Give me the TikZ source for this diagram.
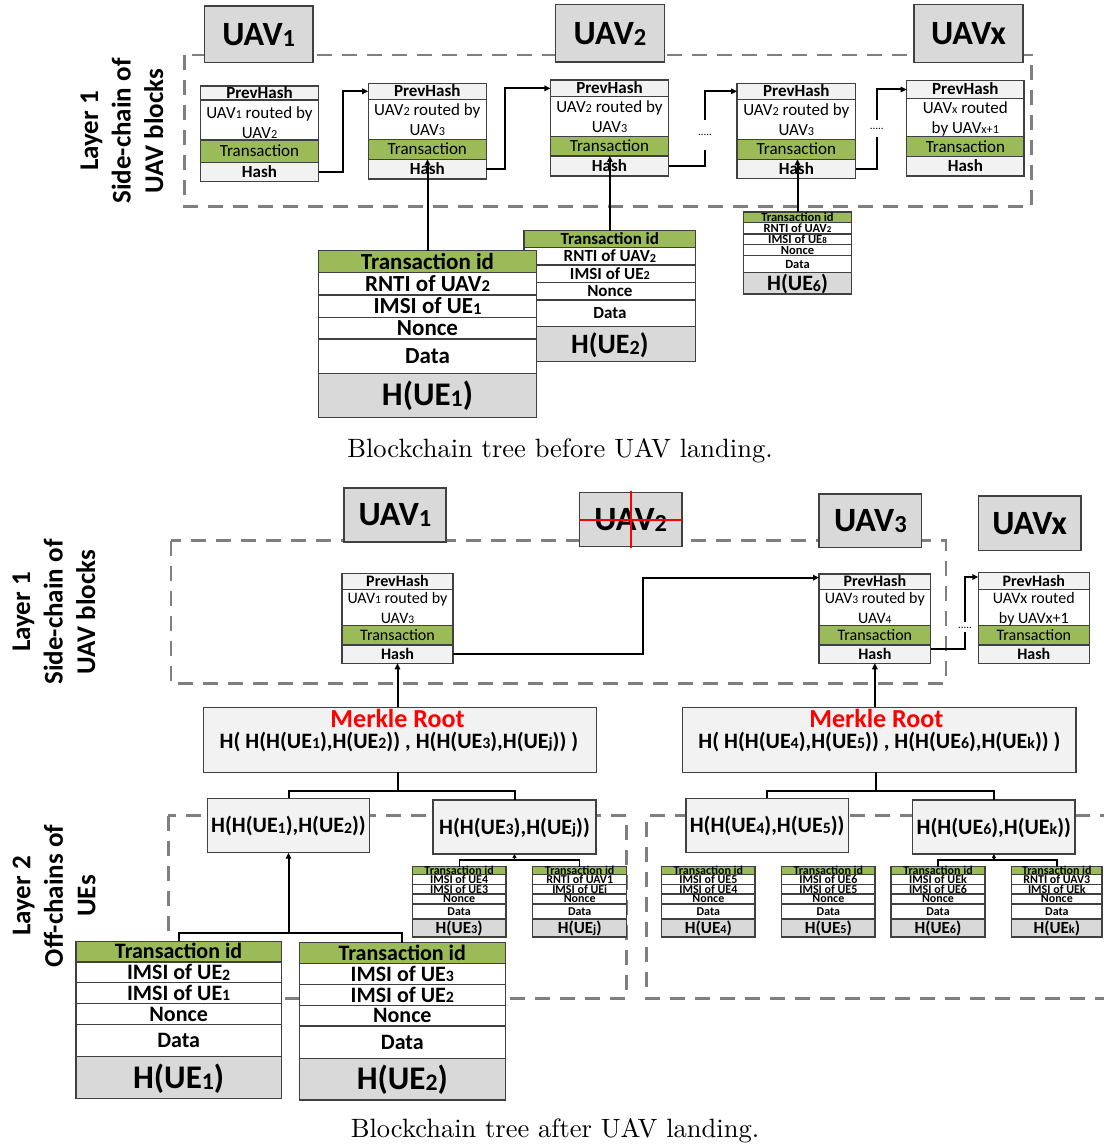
\documentclass[tikz,border=0pt]{standalone}
\usepackage{fontspec}
\usepackage{graphicx}
\usetikzlibrary{arrows.meta}
\newfontfamily\carl{Carlito}
\definecolor{grn}{HTML}{9BBB59}
\definecolor{lgray}{HTML}{F2F2F2}
\definecolor{dgray}{HTML}{D9D9D9}
\definecolor{bord}{HTML}{404040}
\definecolor{dashc}{HTML}{7F7F7F}
\newcommand\sbs[1]{\raisebox{-0.03em}{\scalebox{0.72}{#1}}}
\newcommand\mycell[8]{%
 \node[cellst,fill=#6,minimum width={(#4-#2)*1pt},minimum height={(#5-#3)*1pt},anchor=north west] (#1) at (#2,#3) {};%
 \node[inner sep=0pt,#7] (#1t) at (#1.center) {#8};}
\newcommand\mystab[6]{%
 \mycell{#1a}{#2}{866.7}{#3}{874.3}{grn}{bz=12}{Transaction id}%
 \mycell{#1b}{#2}{874.3}{#3}{884.3}{white}{bz=12}{#4}%
 \mycell{#1c}{#2}{884.3}{#3}{894}{white}{bz=12}{#5}%
 \mycell{#1d}{#2}{894}{#3}{904}{white}{bz=12}{Nonce}%
 \mycell{#1e}{#2}{904}{#3}{919}{white}{bz=12}{Data}%
 \mycell{#1f}{#2}{919}{#3}{937}{dgray}{bz=17}{#6}}
\tikzset{
 cellst/.style={draw=bord,line width=1.1pt,inner sep=0pt,outer sep=0pt},
 rz/.code={\pgfmathsetmacro\mycap{0.644*#1}\tikzset{font={\carl\fontsize{#1}{#1}\selectfont},text height=\mycap pt,text depth=0pt}},
 bz/.code={\pgfmathsetmacro\mycap{0.644*#1}\tikzset{font={\carl\fontsize{#1}{#1}\selectfont\bfseries},text height=\mycap pt,text depth=0pt}},
 dashbox/.style={draw=dashc,line width=2.6pt,dash pattern=on 15pt off 10pt},
 conn/.style={draw=black,line width=2pt},
 arr/.style={conn,-{Triangle[length=6pt,width=5.5pt]}},
 thinc/.style={draw=black,line width=1.3pt},
 tarr/.style={thinc,-{Triangle[length=4pt,width=4pt]}},
 dots/.style={font={\carl\fontsize{11}{11}\selectfont},inner sep=0pt,text height=1.5pt,text depth=0pt},
 lab/.style={rotate=90,align=center,inner sep=0pt,font={\carl\fontsize{27}{32.5}\selectfont\bfseries}},
 capt/.style={inner sep=0pt,font={\fontsize{10}{12}\selectfont}},
 redx/.style={draw=red,line width=2.2pt},
}
\begin{document}
\begin{tikzpicture}[x=1pt,y=-1pt]
\useasboundingbox (0,0) rectangle (1103,1147);
\fill[white] (0,0) rectangle (1103,1147);

%================ TOP =================
\draw[dashbox] (184.3,55) rectangle (1031.7,206.5);
\mycell{uav1t}{204.3}{6}{313.2}{62.3}{dgray,line width=1.5pt}{bz=34}{UAV\sbs{1}}
\mycell{uav2t}{555.7}{4.7}{664.3}{62}{dgray,line width=1.5pt}{bz=34}{UAV\sbs{2}}
\mycell{uavxt}{914}{4.7}{1023}{62.3}{dgray,line width=1.5pt}{bz=34}{UAVx}

% Block A
\mycell{pA}{200.4}{86}{318.6}{100}{lgray}{bz=17}{PrevHash}
\mycell{tA}{200.4}{100}{318.6}{140}{white}{rz=17}{}
\mycell{trA}{200.4}{140}{318.6}{162.3}{grn}{rz=17}{Transaction}
\mycell{hA}{200.4}{162.3}{318.6}{181.7}{lgray}{bz=17}{Hash}
\node[rz=17] (tA1) at (259.5,113) {UAV\sbs{1} routed by};
\node[rz=17] (tA2) at (259.5,133) {UAV\sbs{2}};
% Block B
\mycell{pB}{368.2}{83.3}{486.4}{99.3}{lgray}{bz=17}{PrevHash}
\mycell{tB}{368.2}{99.3}{486.4}{139.3}{white}{rz=17}{}
\mycell{trB}{368.2}{139.3}{486.4}{159.3}{grn}{rz=17}{Transaction}
\mycell{hB}{368.2}{159.3}{486.4}{179}{lgray}{bz=17}{Hash}
\node[rz=17] (tB1) at (427.3,110) {UAV\sbs{2} routed by};
\node[rz=17] (tB2) at (427.3,130) {UAV\sbs{3}};
% Block C
\mycell{pC}{550.4}{80}{668.6}{96.7}{lgray}{bz=17}{PrevHash}
\mycell{tC}{550.4}{96.7}{668.6}{136.7}{white}{rz=17}{}
\mycell{trC}{550.4}{136.7}{668.6}{156}{grn}{rz=17}{Transaction}
\mycell{hC}{550.4}{156}{668.6}{176}{lgray}{bz=17}{Hash}
\node[rz=17] (tC1) at (609.5,107) {UAV\sbs{2} routed by};
\node[rz=17] (tC2) at (609.5,127) {UAV\sbs{3}};
% Block D
\mycell{pD}{737}{83.3}{855.7}{99.3}{lgray}{bz=17}{PrevHash}
\mycell{tD}{737}{99.3}{855.7}{139.3}{white}{rz=17}{}
\mycell{trD}{737}{139.3}{855.7}{159.3}{grn}{rz=17}{Transaction}
\mycell{hD}{737}{159.3}{855.7}{178.3}{lgray}{bz=17}{Hash}
\node[rz=17] (tD1) at (796.35,110) {UAV\sbs{2} routed by};
\node[rz=17] (tD2) at (796.35,130) {UAV\sbs{3}};
% Block E
\mycell{pE}{906.7}{80.7}{1024}{98.3}{lgray}{bz=17}{PrevHash}
\mycell{tE}{906.7}{98.3}{1024}{136.7}{white}{rz=17}{}
\mycell{trE}{906.7}{136.7}{1024}{156.7}{grn}{rz=17}{Transaction}
\mycell{hE}{906.7}{156.7}{1024}{176}{lgray}{bz=17}{Hash}
\node[rz=17] (tE1) at (965.35,108) {UAV\sbs{x} routed};
\node[rz=17] (tE2) at (965.35,128) {by UAV\sbs{x+1}};

% chain connectors
\draw[arr] (hA.east) -- ++(24,0) |- (pB.west);
\draw[arr] (hB.east) -- ++(18.6,0) |- (pC.west);
\coordinate (gC1) at (705,150); \coordinate (gC2) at (705,120);
\node[dots] (dC) at (705,135) {.....};
\draw[conn] (hC.east) -| (gC1);
\draw[arr] (gC2) |- (pD.west);
\coordinate (gD1) at (876.7,137); \coordinate (gD2) at (876.7,120);
\node[dots] (dD) at (876.7,128.5) {.....};
\draw[conn] (hD.east) -| (gD1);
\draw[arr] (gD2) |- (pE.west);

% tables top
\mycell{tidUE2}{524}{230.7}{695.7}{247.3}{grn}{bz=17}{Transaction id}
\mycell{r1UE2}{524}{247.3}{695.7}{265}{white}{bz=17}{RNTI of UAV\sbs{2}}
\mycell{r2UE2}{524}{265}{695.7}{282.7}{white}{bz=17}{IMSI of UE\sbs{2}}
\mycell{r3UE2}{524}{282.7}{695.7}{300}{white}{bz=17}{Nonce}
\mycell{r4UE2}{524}{300}{695.7}{326.7}{white}{bz=17}{Data}
\mycell{hUE2}{524}{326.7}{695.7}{361.7}{dgray}{bz=28}{H(UE\sbs{2})}

\mycell{tidUE1}{318.3}{250.7}{536.7}{272.7}{grn}{bz=23}{Transaction id}
\mycell{r1UE1}{318.3}{272.7}{536.7}{295}{white}{bz=23}{RNTI of UAV\sbs{2}}
\mycell{r2UE1}{318.3}{295}{536.7}{317.3}{white}{bz=23}{IMSI of UE\sbs{1}}
\mycell{r3UE1}{318.3}{317.3}{536.7}{339}{white}{bz=23}{Nonce}
\mycell{r4UE1}{318.3}{339}{536.7}{373.3}{white}{bz=23}{Data}
\mycell{hUE1}{318.3}{373.3}{536.7}{417.3}{dgray}{bz=33}{H(UE\sbs{1})}

\mycell{tidUE6}{743.3}{212}{851.7}{222.7}{grn}{bz=12.5}{Transaction id}
\mycell{r1UE6}{743.3}{222.7}{851.7}{234}{white}{bz=12.5}{RNTI of UAV\sbs{2}}
\mycell{r2UE6}{743.3}{234}{851.7}{244.7}{white}{bz=12.5}{IMSI of UE\sbs{8}}
\mycell{r3UE6}{743.3}{244.7}{851.7}{255.3}{white}{bz=12.5}{Nonce}
\mycell{r4UE6}{743.3}{255.3}{851.7}{272.7}{white}{bz=12.5}{Data}
\mycell{hUE6}{743.3}{272.7}{851.7}{294}{dgray}{bz=22}{H(UE\sbs{6})}

\draw[arr] (tidUE1.north) -- (tidUE1.north |- hB.north);
\draw[arr] (tidUE2.north) -- (tidUE2.north |- hC.north);
\draw[arr] (tidUE6.north) -- (tidUE6.north |- hD.north);

\node[lab] (lab1) at (122,131) {Layer 1\\Side-chain of\\UAV blocks};
\node[capt] (cap1) at (560,451) {\scalebox{2.65}{Blockchain tree before UAV landing.}};

%================ BOTTOM =================
\draw[dashbox] (171,540.7) rectangle (946,683.3);
\mycell{uav1b}{344}{488}{446}{542}{dgray,line width=1.5pt}{bz=34}{UAV\sbs{1}}
\mycell{uav2b}{579.5}{492.7}{682}{546.7}{dgray,line width=1.5pt}{bz=34}{UAV\sbs{2}}
\mycell{uav3b}{819}{494}{921.7}{547.3}{dgray,line width=1.5pt}{bz=34}{UAV\sbs{3}}
\mycell{uavxb}{978.3}{496}{1081}{550.7}{dgray,line width=1.5pt}{bz=34}{UAVx}
\draw[redx] (uav2b.west) -- (uav2b.east);
\draw[redx] ([yshift=1.5pt]uav2b.north) -- ([yshift=-1.5pt]uav2b.south);

% Block B1
\mycell{pB1}{342}{573.3}{453}{589.3}{lgray}{bz=16}{PrevHash}
\mycell{tB1}{342}{589.3}{453}{625.7}{white}{rz=16}{}
\mycell{trB1}{342}{625.7}{453}{645}{grn}{rz=16}{Transaction}
\mycell{hB1}{342}{645}{453}{663.3}{lgray}{bz=16}{Hash}
\node[rz=16] (tB11) at (397.5,598) {UAV\sbs{1} routed by};
\node[rz=16] (tB12) at (397.5,618) {UAV\sbs{3}};
% Block B3
\mycell{pB3}{819}{574}{930.7}{589.3}{lgray}{bz=16}{PrevHash}
\mycell{tB3}{819}{589.3}{930.7}{625.7}{white}{rz=16}{}
\mycell{trB3}{819}{625.7}{930.7}{645}{grn}{rz=16}{Transaction}
\mycell{hB3}{819}{645}{930.7}{663.3}{lgray}{bz=16}{Hash}
\node[rz=16] (tB31) at (874.85,598) {UAV\sbs{3} routed by};
\node[rz=16] (tB32) at (874.85,618) {UAV\sbs{4}};
% Block Bx
\mycell{pBx}{978.3}{572.7}{1089.3}{589.3}{lgray}{bz=16}{PrevHash}
\mycell{tBx}{978.3}{589.3}{1089.3}{625.7}{white}{rz=16}{}
\mycell{trBx}{978.3}{625.7}{1089.3}{645}{grn}{rz=16}{Transaction}
\mycell{hBx}{978.3}{645}{1089.3}{663.3}{lgray}{bz=16}{Hash}
\node[rz=16] (tBx1) at (1033.8,598) {UAVx routed};
\node[rz=16] (tBx2) at (1033.8,618) {by UAVx+1};

\draw[arr] (hB1.east) -- ++(190.3,0) |- ([yshift=4pt]pB3.west);
\coordinate (gB1) at (965,632); \coordinate (gB2) at (965,622);
\node[dots] (dB) at (965,627.5) {.....};
\draw[conn] ([yshift=5pt]hB3.east) -| (gB1);
\draw[arr] (gB2) |- ([yshift=4pt]pBx.west);

% Merkle roots
\mycell{MR1}{203.3}{707.3}{596.7}{772.3}{lgray}{bz=22}{}
\node[bz=26,text=red] (mr1a) at (397.5,719) {Merkle Root};
\node[bz=22] (mr1b) at (399,741) {H( H(H(UE\sbs{1}),H(UE\sbs{2})) , H(H(UE\sbs{3}),H(UE\sbs{j})) )};
\mycell{MR2}{682.7}{707.3}{1076}{772.3}{lgray}{bz=22}{}
\node[bz=26,text=red] (mr2a) at (876.3,719) {Merkle Root};
\node[bz=22] (mr2b) at (879.5,741) {H( H(H(UE\sbs{4}),H(UE\sbs{5})) , H(H(UE\sbs{6}),H(UE\sbs{k})) )};

\draw[arr] (hB1.south |- MR1.north) -- (hB1.south);
\draw[arr] (hB3.south |- MR2.north) -- (hB3.south);

% layer 2 dashed boxes
\draw[dashbox] (168.3,815.7) rectangle (626.7,998.7);
\draw[dashbox] (1115,815.7) -- (646.7,815.7) -- (646.7,998.7) -- (1115,998.7);

% second level hashes
\mycell{HH12}{207.7}{798.3}{369.3}{852.7}{lgray}{bz=22}{H(H(UE\sbs{1}),H(UE\sbs{2}))}
\mycell{HH3j}{433}{800}{596}{854}{lgray}{bz=22}{H(H(UE\sbs{3}),H(UE\sbs{j}))}
\mycell{HH45}{686}{798.3}{848.3}{852.7}{lgray}{bz=22}{H(H(UE\sbs{4}),H(UE\sbs{5}))}
\mycell{HH6k}{912.7}{800}{1075}{854}{lgray}{bz=22}{H(H(UE\sbs{6}),H(UE\sbs{k}))}

\coordinate (t1) at (397.5,790.7);
\draw[conn] (t1 |- MR1.south) -- (t1);
\draw[conn] (HH12.north) |- (t1) -| (HH3j.north);
\coordinate (t2) at (876,790.7);
\draw[conn] (t2 |- MR2.south) -- (t2);
\draw[conn] (HH45.north) |- (t2) -| (HH6k.north);

% small tables
\mystab{UE3}{412.3}{506}{IMSI of UE4}{IMSI of UE3}{H(UE\sbs{3})}
\mystab{UEj}{532.7}{626.7}{RNTI of UAV1}{IMSI of UEi}{H(UE\sbs{j})}
\mystab{UE4}{661.7}{755}{IMSI of UE5}{IMSI of UE4}{H(UE\sbs{4})}
\mystab{UE5}{781.7}{875}{IMSI of UE6}{IMSI of UE5}{H(UE\sbs{5})}
\mystab{UE6s}{891}{985}{IMSI of UEk}{IMSI of UE6}{H(UE\sbs{6})}
\mystab{UEk}{1011.7}{1102}{RNTI of UAV3}{IMSI of UEk}{H(UE\sbs{k})}

\coordinate (b3) at (514.5,860);
\draw[thinc] (UE3a.north) |- (b3) -| (UEja.north);
\draw[tarr] (b3) -- (b3 |- HH3j.south);
\coordinate (b6) at (993.9,860);
\draw[thinc] (UE6sa.north) |- (b6) -| (UEka.north);
\draw[tarr] (b6) -- (b6 |- HH6k.south);

% big tables
\mycell{UE1ba}{76}{941.3}{281.3}{962}{grn}{bz=22}{Transaction id}
\mycell{UE1bb}{76}{962}{281.3}{982.7}{white}{bz=22}{IMSI of UE\sbs{2}}
\mycell{UE1bc}{76}{982.7}{281.3}{1003.3}{white}{bz=22}{IMSI of UE\sbs{1}}
\mycell{UE1bd}{76}{1003.3}{281.3}{1024.7}{white}{bz=22}{Nonce}
\mycell{UE1be}{76}{1024.7}{281.3}{1056.7}{white}{bz=22}{Data}
\mycell{UE1bf}{76}{1056.7}{281.3}{1098.3}{dgray}{bz=33}{H(UE\sbs{1})}

\mycell{UE2ba}{299.3}{942.7}{505.3}{963.3}{grn}{bz=22}{Transaction id}
\mycell{UE2bb}{299.3}{963.3}{505.3}{984.7}{white}{bz=22}{IMSI of UE\sbs{3}}
\mycell{UE2bc}{299.3}{984.7}{505.3}{1005.3}{white}{bz=22}{IMSI of UE\sbs{2}}
\mycell{UE2bd}{299.3}{1005.3}{505.3}{1026}{white}{bz=22}{Nonce}
\mycell{UE2be}{299.3}{1026}{505.3}{1058.3}{white}{bz=22}{Data}
\mycell{UE2bf}{299.3}{1058.3}{505.3}{1100}{dgray}{bz=33}{H(UE\sbs{2})}

\coordinate (b12) at (288.5,932.7);
\draw[conn] (UE1ba.north) |- (b12) -| (UE2ba.north);
\draw[arr] (b12) -- (b12 |- HH12.south);

\node[lab] (lab2) at (54,612) {Layer 1\\Side-chain of\\UAV blocks};
\node[lab] (lab3) at (54,896) {Layer 2\\Off-chains of\\UEs};
\node[capt] (cap2) at (555,1131) {\scalebox{2.65}{Blockchain tree after UAV landing.}};
\end{tikzpicture}
\end{document}
